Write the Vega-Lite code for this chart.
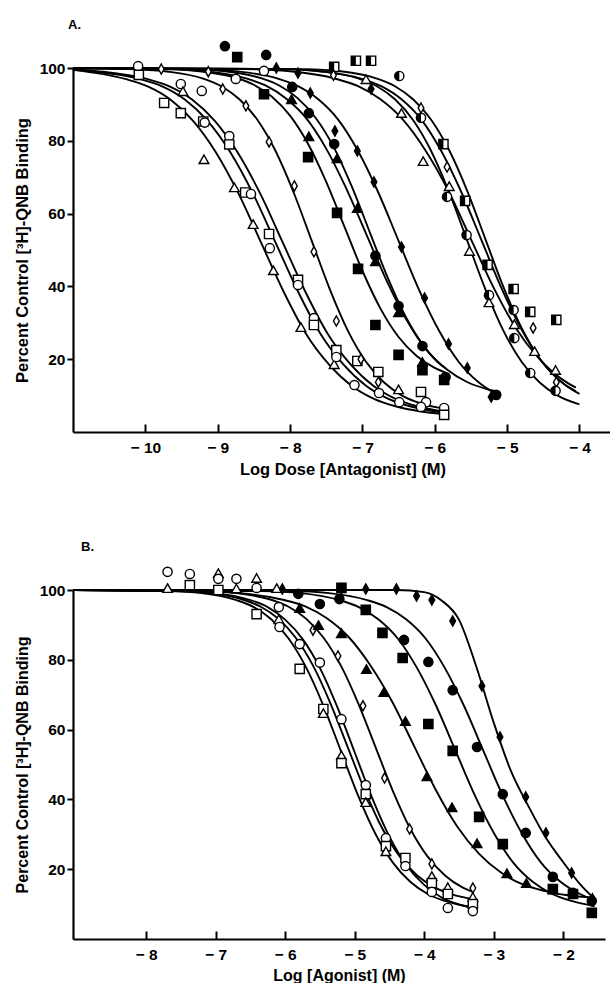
{
"$schema": "https://vega.github.io/schema/vega-lite/v6.json",
"background": "white",
"padding": {"left": 14, "top": 18, "right": 0, "bottom": 0},
"spacing": 63,
"config": {
 "view": {"stroke": null},
 "axis": {"grid": false, "domainColor": "black", "domainWidth": 2.2, "tickColor": "black", "tickWidth": 2,
  "labelFont": "Liberation Sans", "labelFontWeight": "bold", "labelFontSize": 15.5, "labelColor": "black",
  "titleFont": "Liberation Sans", "titleFontWeight": "bold", "titleFontSize": 16.5, "titleColor": "black",
  "labelOverlap": false, "labelFlush": false},
 "title": {"font": "Liberation Sans", "fontWeight": "bold", "fontSize": 13, "color": "black", "anchor": "start", "frame": "group"}
},
"datasets": {
"curvesA": [
{"s":"A1","x":-11,"y":99.5},{"s":"A1","x":-10.28,"y":97.0},{"s":"A1","x":-9.96,"y":94.9},{"s":"A1","x":-9.65,"y":91.3},{"s":"A1","x":-9.34,"y":85.5},{"s":"A1","x":-9.03,"y":77.0},{"s":"A1","x":-8.71,"y":65.4},{"s":"A1","x":-8.4,"y":52},{"s":"A1","x":-8.09,"y":38.6},{"s":"A1","x":-7.78,"y":27.0},{"s":"A1","x":-7.46,"y":18.5},{"s":"A1","x":-7.15,"y":12.7},{"s":"A1","x":-6.84,"y":9.1},{"s":"A1","x":-6.53,"y":7.0},{"s":"A1","x":-6.21,"y":5.7},{"s":"A1","x":-5.85,"y":4.9},
{"s":"A2","x":-11,"y":99.5},{"s":"A2","x":-10.7,"y":99.0},{"s":"A2","x":-10.08,"y":97.0},{"s":"A2","x":-9.76,"y":94.9},{"s":"A2","x":-9.45,"y":91.3},{"s":"A2","x":-9.14,"y":85.5},{"s":"A2","x":-8.83,"y":77.0},{"s":"A2","x":-8.51,"y":65.4},{"s":"A2","x":-8.2,"y":52},{"s":"A2","x":-7.89,"y":38.6},{"s":"A2","x":-7.58,"y":27.0},{"s":"A2","x":-7.26,"y":18.5},{"s":"A2","x":-6.95,"y":12.7},{"s":"A2","x":-6.64,"y":9.1},{"s":"A2","x":-6.33,"y":7.0},{"s":"A2","x":-6.01,"y":5.7},{"s":"A2","x":-5.85,"y":5.3},
{"s":"A3","x":-11,"y":99.6},{"s":"A3","x":-10.6,"y":99.0},{"s":"A3","x":-9.98,"y":97.0},{"s":"A3","x":-9.66,"y":94.9},{"s":"A3","x":-9.35,"y":91.3},{"s":"A3","x":-9.04,"y":85.5},{"s":"A3","x":-8.73,"y":77.0},{"s":"A3","x":-8.41,"y":65.4},{"s":"A3","x":-8.1,"y":52},{"s":"A3","x":-7.79,"y":38.6},{"s":"A3","x":-7.48,"y":27.0},{"s":"A3","x":-7.16,"y":18.5},{"s":"A3","x":-6.85,"y":12.7},{"s":"A3","x":-6.54,"y":9.1},{"s":"A3","x":-6.23,"y":7.0},{"s":"A3","x":-5.91,"y":5.7},{"s":"A3","x":-5.85,"y":5.5},
{"s":"A4","x":-11,"y":100},{"s":"A4","x":-10.2,"y":99.7},{"s":"A4","x":-9.7,"y":99.05},{"s":"A4","x":-9.2,"y":97.1},{"s":"A4","x":-8.95,"y":95.0},{"s":"A4","x":-8.7,"y":91.4},{"s":"A4","x":-8.45,"y":85.7},{"s":"A4","x":-8.2,"y":77.2},{"s":"A4","x":-7.95,"y":65.8},{"s":"A4","x":-7.7,"y":52.5},{"s":"A4","x":-7.45,"y":39.2},{"s":"A4","x":-7.2,"y":27.8},{"s":"A4","x":-6.95,"y":19.3},{"s":"A4","x":-6.7,"y":13.6},{"s":"A4","x":-6.45,"y":10.0},{"s":"A4","x":-6.2,"y":7.9},{"s":"A4","x":-5.95,"y":6.7},{"s":"A4","x":-5.85,"y":6.4},
{"s":"A5","x":-11,"y":100},{"s":"A5","x":-9.75,"y":99.7},{"s":"A5","x":-9.25,"y":99.1},{"s":"A5","x":-8.75,"y":97.3},{"s":"A5","x":-8.5,"y":95.4},{"s":"A5","x":-8.25,"y":92.1},{"s":"A5","x":-8.0,"y":86.9},{"s":"A5","x":-7.75,"y":79.1},{"s":"A5","x":-7.5,"y":68.7},{"s":"A5","x":-7.25,"y":56.5},{"s":"A5","x":-7.0,"y":44.3},{"s":"A5","x":-6.75,"y":33.9},{"s":"A5","x":-6.5,"y":26.1},{"s":"A5","x":-6.25,"y":20.9},{"s":"A5","x":-6.0,"y":17.6},{"s":"A5","x":-5.85,"y":16.3},
{"s":"A6","x":-11,"y":100},{"s":"A6","x":-9.4,"y":99.7},{"s":"A6","x":-8.9,"y":99.1},{"s":"A6","x":-8.4,"y":97.2},{"s":"A6","x":-8.15,"y":95.2},{"s":"A6","x":-7.9,"y":91.8},{"s":"A6","x":-7.65,"y":86.4},{"s":"A6","x":-7.4,"y":78.4},{"s":"A6","x":-7.15,"y":67.6},{"s":"A6","x":-6.9,"y":55},{"s":"A6","x":-6.65,"y":42.4},{"s":"A6","x":-6.4,"y":31.6},{"s":"A6","x":-6.15,"y":23.6},{"s":"A6","x":-5.9,"y":18.2},{"s":"A6","x":-5.85,"y":17.5},
{"s":"A7","x":-11,"y":100},{"s":"A7","x":-9.73,"y":99.7},{"s":"A7","x":-9.17,"y":99.1},{"s":"A7","x":-8.62,"y":97.2},{"s":"A7","x":-8.34,"y":95.2},{"s":"A7","x":-8.06,"y":91.7},{"s":"A7","x":-7.78,"y":86.3},{"s":"A7","x":-7.51,"y":78.2},{"s":"A7","x":-7.23,"y":67.2},{"s":"A7","x":-6.95,"y":54.5},{"s":"A7","x":-6.67,"y":41.8},{"s":"A7","x":-6.39,"y":30.8},{"s":"A7","x":-6.12,"y":22.7},{"s":"A7","x":-5.84,"y":17.3},{"s":"A7","x":-5.56,"y":13.8},{"s":"A7","x":-5.28,"y":11.8},{"s":"A7","x":-5.15,"y":11.2},
{"s":"A8","x":-11,"y":100},{"s":"A8","x":-9.28,"y":99.7},{"s":"A8","x":-8.72,"y":99.05},{"s":"A8","x":-8.17,"y":97.1},{"s":"A8","x":-7.89,"y":95.0},{"s":"A8","x":-7.61,"y":91.4},{"s":"A8","x":-7.33,"y":85.7},{"s":"A8","x":-7.06,"y":77.2},{"s":"A8","x":-6.78,"y":65.8},{"s":"A8","x":-6.5,"y":52.5},{"s":"A8","x":-6.22,"y":39.2},{"s":"A8","x":-5.94,"y":27.8},{"s":"A8","x":-5.67,"y":19.3},{"s":"A8","x":-5.39,"y":13.6},{"s":"A8","x":-5.2,"y":11.0},
{"s":"A9","x":-11,"y":100},{"s":"A9","x":-8.63,"y":99.7},{"s":"A9","x":-8.0,"y":99.1},{"s":"A9","x":-7.38,"y":97.1},{"s":"A9","x":-7.06,"y":95.0},{"s":"A9","x":-6.75,"y":91.4},{"s":"A9","x":-6.44,"y":85.8},{"s":"A9","x":-6.13,"y":77.4},{"s":"A9","x":-5.81,"y":66.2},{"s":"A9","x":-5.5,"y":53},{"s":"A9","x":-5.19,"y":39.8},{"s":"A9","x":-4.88,"y":28.6},{"s":"A9","x":-4.56,"y":20.2},{"s":"A9","x":-4.25,"y":14.6},{"s":"A9","x":-4.05,"y":12.2},
{"s":"A10","x":-11,"y":100},{"s":"A10","x":-8.05,"y":99.7},{"s":"A10","x":-7.55,"y":99.05},{"s":"A10","x":-7.05,"y":97.1},{"s":"A10","x":-6.8,"y":95.0},{"s":"A10","x":-6.55,"y":91.4},{"s":"A10","x":-6.3,"y":85.7},{"s":"A10","x":-6.05,"y":77.2},{"s":"A10","x":-5.8,"y":65.8},{"s":"A10","x":-5.55,"y":52.5},{"s":"A10","x":-5.3,"y":39.2},{"s":"A10","x":-5.05,"y":27.8},{"s":"A10","x":-4.8,"y":19.3},{"s":"A10","x":-4.55,"y":13.6},{"s":"A10","x":-4.3,"y":10.0},{"s":"A10","x":-4.0,"y":7.6},
{"s":"A11","x":-11,"y":100},{"s":"A11","x":-8.13,"y":99.7},{"s":"A11","x":-7.57,"y":99.05},{"s":"A11","x":-7.02,"y":97.1},{"s":"A11","x":-6.74,"y":95.0},{"s":"A11","x":-6.46,"y":91.4},{"s":"A11","x":-6.18,"y":85.7},{"s":"A11","x":-5.91,"y":77.2},{"s":"A11","x":-5.63,"y":65.8},{"s":"A11","x":-5.35,"y":52.5},{"s":"A11","x":-5.07,"y":39.2},{"s":"A11","x":-4.79,"y":27.8},{"s":"A11","x":-4.52,"y":19.3},{"s":"A11","x":-4.24,"y":13.6},{"s":"A11","x":-4.05,"y":11.2},
{"s":"A12","x":-11,"y":100},{"s":"A12","x":-7.8,"y":99.7},{"s":"A12","x":-7.3,"y":99.1},{"s":"A12","x":-6.8,"y":97.1},{"s":"A12","x":-6.55,"y":95.0},{"s":"A12","x":-6.3,"y":91.4},{"s":"A12","x":-6.05,"y":85.8},{"s":"A12","x":-5.8,"y":77.4},{"s":"A12","x":-5.55,"y":66.2},{"s":"A12","x":-5.3,"y":53},{"s":"A12","x":-5.05,"y":39.8},{"s":"A12","x":-4.8,"y":28.6},{"s":"A12","x":-4.55,"y":20.2},{"s":"A12","x":-4.3,"y":14.6},{"s":"A12","x":-4.05,"y":11.0},{"s":"A12","x":-4.0,"y":10.5}
],
"pointsA": [
{"x":-10.10,"y":100.5,"m":"circle","f":"open"},{"x":-10.09,"y":98.1,"m":"square","f":"open"},{"x":-9.78,"y":99.7,"m":"diamond","f":"open"},{"x":-9.51,"y":95.6,"m":"circle","f":"open"},{"x":-9.48,"y":93.4,"m":"triangle","f":"open"},{"x":-9.22,"y":93.7,"m":"circle","f":"open"},{"x":-9.74,"y":90.4,"m":"square","f":"open"},{"x":-9.51,"y":87.6,"m":"square","f":"open"},{"x":-9.2,"y":85.3,"m":"square","f":"open"},{"x":-9.18,"y":85.0,"m":"circle","f":"open"},{"x":-8.84,"y":81.3,"m":"circle","f":"open"},{"x":-8.84,"y":79.0,"m":"square","f":"open"},{"x":-9.19,"y":74.7,"m":"triangle","f":"open"},{"x":-8.77,"y":67.0,"m":"triangle","f":"open"},{"x":-8.62,"y":65.8,"m":"square","f":"open"},{"x":-8.54,"y":65.4,"m":"circle","f":"open"},{"x":-8.51,"y":56.9,"m":"triangle","f":"open"},{"x":-8.29,"y":54.4,"m":"square","f":"open"},{"x":-8.28,"y":50.5,"m":"circle","f":"open"},{"x":-8.23,"y":44.2,"m":"triangle","f":"open"},{"x":-7.89,"y":41.8,"m":"square","f":"open"},{"x":-7.89,"y":40.4,"m":"circle","f":"open"},{"x":-7.85,"y":28.6,"m":"triangle","f":"open"},{"x":-7.67,"y":31.3,"m":"circle","f":"open"},{"x":-7.67,"y":29.4,"m":"square","f":"open"},{"x":-7.36,"y":22.5,"m":"square","f":"open"},{"x":-7.39,"y":18.4,"m":"triangle","f":"open"},{"x":-7.36,"y":20.6,"m":"circle","f":"open"},{"x":-7.07,"y":19.5,"m":"square","f":"open"},{"x":-7.11,"y":12.9,"m":"circle","f":"open"},{"x":-6.78,"y":16.5,"m":"square","f":"open"},{"x":-6.77,"y":10.7,"m":"circle","f":"open"},{"x":-6.5,"y":11.5,"m":"triangle","f":"open"},{"x":-6.49,"y":8.2,"m":"circle","f":"open"},{"x":-6.19,"y":11.0,"m":"square","f":"open"},{"x":-6.12,"y":8.2,"m":"circle","f":"open"},{"x":-6.19,"y":6.9,"m":"circle","f":"open"},{"x":-5.87,"y":6.6,"m":"circle","f":"open"},{"x":-5.87,"y":4.7,"m":"square","f":"open"},
{"x":-9.13,"y":99.0,"m":"diamond","f":"open"},{"x":-8.93,"y":94.2,"m":"diamond","f":"open"},{"x":-8.61,"y":89.6,"m":"diamond","f":"open"},{"x":-8.29,"y":79.7,"m":"diamond","f":"open"},{"x":-7.94,"y":67.6,"m":"diamond","f":"open"},{"x":-7.67,"y":49.5,"m":"diamond","f":"open"},{"x":-7.36,"y":30.5,"m":"diamond","f":"open"},{"x":-7.02,"y":20.0,"m":"diamond","f":"open"},{"x":-6.78,"y":13.7,"m":"diamond","f":"open"},
{"x":-8.75,"y":97.0,"m":"circle","f":"open"},{"x":-8.36,"y":99.2,"m":"circle","f":"open"},
{"x":-8.9,"y":106,"m":"circle","f":"filled"},{"x":-8.73,"y":103,"m":"square","f":"filled"},{"x":-8.33,"y":103.6,"m":"circle","f":"filled"},{"x":-8.36,"y":92.8,"m":"square","f":"filled"},{"x":-8.19,"y":100,"m":"diamond","f":"filled"},{"x":-7.89,"y":98.6,"m":"diamond","f":"filled"},{"x":-7.97,"y":94.8,"m":"circle","f":"filled"},{"x":-7.98,"y":91.2,"m":"triangle","f":"filled"},{"x":-7.72,"y":93.1,"m":"diamond","f":"filled"},{"x":-7.74,"y":87.6,"m":"circle","f":"filled"},{"x":-7.74,"y":81.0,"m":"triangle","f":"filled"},{"x":-7.75,"y":75.5,"m":"square","f":"filled"},{"x":-7.38,"y":82.7,"m":"diamond","f":"filled"},{"x":-7.39,"y":79.1,"m":"circle","f":"filled"},{"x":-7.35,"y":75.0,"m":"triangle","f":"filled"},{"x":-7.07,"y":77.2,"m":"diamond","f":"filled"},{"x":-6.84,"y":68.7,"m":"diamond","f":"filled"},{"x":-7.35,"y":60.2,"m":"square","f":"filled"},{"x":-7.07,"y":61.3,"m":"triangle","f":"filled"},{"x":-6.46,"y":50.8,"m":"diamond","f":"filled"},{"x":-6.82,"y":48.4,"m":"circle","f":"filled"},{"x":-6.82,"y":46.7,"m":"triangle","f":"filled"},{"x":-7.06,"y":44.8,"m":"square","f":"filled"},{"x":-6.14,"y":36.8,"m":"diamond","f":"filled"},{"x":-6.5,"y":34.6,"m":"circle","f":"filled"},{"x":-6.5,"y":32.7,"m":"triangle","f":"filled"},{"x":-6.82,"y":29.4,"m":"square","f":"filled"},{"x":-5.81,"y":24.2,"m":"diamond","f":"filled"},{"x":-6.17,"y":23.6,"m":"circle","f":"filled"},{"x":-6.5,"y":21.2,"m":"square","f":"filled"},{"x":-5.55,"y":17.6,"m":"diamond","f":"filled"},{"x":-6.17,"y":19.0,"m":"triangle","f":"filled"},{"x":-6.17,"y":17.0,"m":"square","f":"filled"},{"x":-5.85,"y":15.1,"m":"circle","f":"filled"},{"x":-5.87,"y":14.3,"m":"square","f":"filled"},{"x":-5.22,"y":9.6,"m":"diamond","f":"filled"},{"x":-5.15,"y":10.2,"m":"circle","f":"filled"},
{"x":-7.39,"y":100.3,"m":"square","f":"half"},{"x":-7.09,"y":102,"m":"square","f":"half"},{"x":-6.88,"y":102,"m":"square","f":"half"},{"x":-7.4,"y":98.0,"m":"diamond","f":"open"},{"x":-6.95,"y":96.7,"m":"triangle","f":"open"},{"x":-6.88,"y":94.2,"m":"diamond","f":"filled"},{"x":-6.49,"y":97.8,"m":"circle","f":"half"},{"x":-6.46,"y":87.4,"m":"triangle","f":"open"},{"x":-6.19,"y":89.0,"m":"diamond","f":"open"},{"x":-6.19,"y":86.3,"m":"circle","f":"half"},{"x":-6.16,"y":74.2,"m":"triangle","f":"open"},{"x":-5.88,"y":79.1,"m":"square","f":"half"},{"x":-5.83,"y":72.8,"m":"diamond","f":"open"},{"x":-5.8,"y":67.3,"m":"triangle","f":"open"},{"x":-5.83,"y":64.6,"m":"circle","f":"half"},{"x":-5.58,"y":63.5,"m":"square","f":"half"},{"x":-5.56,"y":54.1,"m":"circle","f":"half"},{"x":-5.52,"y":49.5,"m":"triangle","f":"open"},{"x":-5.27,"y":45.9,"m":"square","f":"half"},{"x":-5.25,"y":37.6,"m":"circle","f":"half"},{"x":-5.25,"y":35.4,"m":"triangle","f":"open"},{"x":-4.91,"y":39.3,"m":"square","f":"half"},{"x":-4.91,"y":33.5,"m":"circle","f":"half"},{"x":-4.68,"y":33.0,"m":"square","f":"half"},{"x":-4.9,"y":29.4,"m":"triangle","f":"open"},{"x":-4.64,"y":28.6,"m":"diamond","f":"open"},{"x":-4.32,"y":30.8,"m":"square","f":"half"},{"x":-4.9,"y":25.8,"m":"circle","f":"half"},{"x":-4.62,"y":22.0,"m":"triangle","f":"open"},{"x":-4.68,"y":16.2,"m":"circle","f":"half"},{"x":-4.33,"y":16.8,"m":"triangle","f":"open"},{"x":-4.32,"y":13.7,"m":"diamond","f":"open"},{"x":-4.33,"y":11.3,"m":"circle","f":"half"}
],
"curvesB": [
{"s":"B1","x":-9.05,"y":100},{"s":"B1","x":-7.7,"y":99.7},{"s":"B1","x":-7.2,"y":99.1},{"s":"B1","x":-6.7,"y":97.1},{"s":"B1","x":-6.45,"y":95.1},{"s":"B1","x":-6.2,"y":91.6},{"s":"B1","x":-5.95,"y":86.1},{"s":"B1","x":-5.7,"y":77.9},{"s":"B1","x":-5.45,"y":66.9},{"s":"B1","x":-5.2,"y":54},{"s":"B1","x":-4.95,"y":41.1},{"s":"B1","x":-4.7,"y":30.1},{"s":"B1","x":-4.45,"y":21.9},{"s":"B1","x":-4.2,"y":16.4},{"s":"B1","x":-3.95,"y":12.9},{"s":"B1","x":-3.7,"y":10.9},{"s":"B1","x":-3.45,"y":9.6},{"s":"B1","x":-3.3,"y":9.2},
{"s":"B2","x":-9.05,"y":100},{"s":"B2","x":-7.6,"y":99.7},{"s":"B2","x":-7.1,"y":99.1},{"s":"B2","x":-6.6,"y":97.2},{"s":"B2","x":-6.35,"y":95.2},{"s":"B2","x":-6.1,"y":91.8},{"s":"B2","x":-5.85,"y":86.4},{"s":"B2","x":-5.6,"y":78.4},{"s":"B2","x":-5.35,"y":67.6},{"s":"B2","x":-5.1,"y":55},{"s":"B2","x":-4.85,"y":42.4},{"s":"B2","x":-4.6,"y":31.6},{"s":"B2","x":-4.35,"y":23.6},{"s":"B2","x":-4.1,"y":18.2},{"s":"B2","x":-3.85,"y":14.8},{"s":"B2","x":-3.6,"y":12.8},{"s":"B2","x":-3.3,"y":11.4},
{"s":"B3","x":-9.05,"y":100},{"s":"B3","x":-7.5,"y":99.7},{"s":"B3","x":-7.0,"y":99.1},{"s":"B3","x":-6.5,"y":97.1},{"s":"B3","x":-6.25,"y":95.1},{"s":"B3","x":-6.0,"y":91.5},{"s":"B3","x":-5.75,"y":86.0},{"s":"B3","x":-5.5,"y":77.7},{"s":"B3","x":-5.25,"y":66.5},{"s":"B3","x":-5.0,"y":53.5},{"s":"B3","x":-4.75,"y":40.5},{"s":"B3","x":-4.5,"y":29.3},{"s":"B3","x":-4.25,"y":21.0},{"s":"B3","x":-4.0,"y":15.5},{"s":"B3","x":-3.75,"y":11.9},{"s":"B3","x":-3.5,"y":9.9},{"s":"B3","x":-3.3,"y":8.8},
{"s":"B4","x":-9.05,"y":100},{"s":"B4","x":-7.2,"y":99.7},{"s":"B4","x":-6.7,"y":99.1},{"s":"B4","x":-6.2,"y":97.2},{"s":"B4","x":-5.95,"y":95.2},{"s":"B4","x":-5.7,"y":91.8},{"s":"B4","x":-5.45,"y":86.4},{"s":"B4","x":-5.2,"y":78.4},{"s":"B4","x":-4.95,"y":67.6},{"s":"B4","x":-4.7,"y":55},{"s":"B4","x":-4.45,"y":42.4},{"s":"B4","x":-4.2,"y":31.6},{"s":"B4","x":-3.95,"y":23.6},{"s":"B4","x":-3.7,"y":18.2},{"s":"B4","x":-3.45,"y":14.8},{"s":"B4","x":-3.3,"y":13.5},
{"s":"B5","x":-9.05,"y":100},{"s":"B5","x":-7.28,"y":99.7},{"s":"B5","x":-6.65,"y":99.1},{"s":"B5","x":-6.03,"y":97.2},{"s":"B5","x":-5.71,"y":95.3},{"s":"B5","x":-5.4,"y":91.9},{"s":"B5","x":-5.09,"y":86.6},{"s":"B5","x":-4.78,"y":78.6},{"s":"B5","x":-4.46,"y":68.0},{"s":"B5","x":-4.15,"y":55.5},{"s":"B5","x":-3.84,"y":43.0},{"s":"B5","x":-3.53,"y":32.4},{"s":"B5","x":-3.21,"y":24.4},{"s":"B5","x":-2.9,"y":19.1},{"s":"B5","x":-2.59,"y":15.7},{"s":"B5","x":-2.28,"y":13.8},{"s":"B5","x":-1.96,"y":12.6},{"s":"B5","x":-1.55,"y":11.8},
{"s":"B6","x":-9.05,"y":100},{"s":"B6","x":-6.33,"y":99.7},{"s":"B6","x":-5.77,"y":99.1},{"s":"B6","x":-5.22,"y":97.1},{"s":"B6","x":-4.94,"y":95.1},{"s":"B6","x":-4.66,"y":91.6},{"s":"B6","x":-4.38,"y":86.1},{"s":"B6","x":-4.11,"y":77.9},{"s":"B6","x":-3.83,"y":66.9},{"s":"B6","x":-3.55,"y":54},{"s":"B6","x":-3.27,"y":41.1},{"s":"B6","x":-2.99,"y":30.1},{"s":"B6","x":-2.72,"y":21.9},{"s":"B6","x":-2.44,"y":16.4},{"s":"B6","x":-2.16,"y":12.9},{"s":"B6","x":-1.88,"y":10.9},{"s":"B6","x":-1.55,"y":9.4},
{"s":"B7","x":-9.05,"y":100},{"s":"B7","x":-5.93,"y":99.7},{"s":"B7","x":-5.37,"y":99.1},{"s":"B7","x":-4.82,"y":97.1},{"s":"B7","x":-4.54,"y":95.1},{"s":"B7","x":-4.26,"y":91.6},{"s":"B7","x":-3.98,"y":86.1},{"s":"B7","x":-3.71,"y":77.9},{"s":"B7","x":-3.43,"y":66.9},{"s":"B7","x":-3.15,"y":54},{"s":"B7","x":-2.87,"y":41.1},{"s":"B7","x":-2.59,"y":30.1},{"s":"B7","x":-2.32,"y":21.9},{"s":"B7","x":-2.04,"y":16.4},{"s":"B7","x":-1.76,"y":12.9},{"s":"B7","x":-1.55,"y":11.1},
{"s":"B8","x":-9.05,"y":100},{"s":"B8","x":-4.4,"y":100},{"s":"B8","x":-4.0,"y":99.4},{"s":"B8","x":-3.75,"y":97},{"s":"B8","x":-3.5,"y":91.5},{"s":"B8","x":-3.25,"y":78},{"s":"B8","x":-3.0,"y":62},{"s":"B8","x":-2.75,"y":48},{"s":"B8","x":-2.5,"y":38},{"s":"B8","x":-2.25,"y":29},{"s":"B8","x":-2.0,"y":22},{"s":"B8","x":-1.75,"y":15.5},{"s":"B8","x":-1.55,"y":11.5}
],
"pointsB": [
{"x":-7.69,"y":105.2,"m":"circle","f":"open"},{"x":-7.69,"y":100.3,"m":"triangle","f":"open"},{"x":-7.37,"y":104.6,"m":"circle","f":"open"},{"x":-7.37,"y":101.4,"m":"square","f":"open"},{"x":-6.96,"y":104.6,"m":"triangle","f":"open"},{"x":-6.96,"y":103.2,"m":"circle","f":"open"},{"x":-6.96,"y":100.0,"m":"square","f":"open"},{"x":-6.7,"y":103.2,"m":"circle","f":"open"},{"x":-6.7,"y":100.2,"m":"triangle","f":"open"},{"x":-6.41,"y":103.2,"m":"triangle","f":"open"},{"x":-6.41,"y":100.6,"m":"circle","f":"open"},{"x":-6.12,"y":100.3,"m":"triangle","f":"open"},{"x":-6.41,"y":93.1,"m":"square","f":"open"},{"x":-6.09,"y":95.1,"m":"circle","f":"open"},{"x":-6.09,"y":91.4,"m":"triangle","f":"open"},{"x":-6.08,"y":89.4,"m":"circle","f":"open"},{"x":-5.6,"y":88.5,"m":"diamond","f":"open"},{"x":-5.79,"y":84.5,"m":"circle","f":"open"},{"x":-5.79,"y":77.4,"m":"square","f":"open"},{"x":-5.5,"y":79.2,"m":"circle","f":"open"},{"x":-5.24,"y":81.1,"m":"diamond","f":"open"},{"x":-5.45,"y":65.9,"m":"square","f":"open"},{"x":-5.45,"y":64.5,"m":"triangle","f":"open"},{"x":-5.19,"y":63.0,"m":"circle","f":"open"},{"x":-5.19,"y":52.4,"m":"triangle","f":"open"},{"x":-5.19,"y":50.4,"m":"square","f":"open"},{"x":-4.88,"y":66.8,"m":"diamond","f":"open"},{"x":-4.57,"y":46.1,"m":"diamond","f":"open"},{"x":-4.84,"y":44.1,"m":"circle","f":"open"},{"x":-4.84,"y":41.5,"m":"square","f":"open"},{"x":-4.84,"y":39.0,"m":"triangle","f":"open"},{"x":-4.55,"y":28.9,"m":"circle","f":"open"},{"x":-4.55,"y":26.6,"m":"square","f":"open"},{"x":-4.55,"y":24.9,"m":"triangle","f":"open"},{"x":-4.21,"y":31.5,"m":"diamond","f":"open"},{"x":-4.27,"y":23.2,"m":"square","f":"open"},{"x":-4.27,"y":20.9,"m":"circle","f":"open"},{"x":-3.89,"y":21.5,"m":"diamond","f":"open"},{"x":-3.89,"y":17.8,"m":"triangle","f":"open"},{"x":-3.89,"y":16.0,"m":"square","f":"open"},{"x":-3.89,"y":13.5,"m":"circle","f":"open"},{"x":-3.66,"y":14.6,"m":"triangle","f":"open"},{"x":-3.66,"y":12.9,"m":"square","f":"open"},{"x":-3.66,"y":8.9,"m":"circle","f":"open"},{"x":-3.3,"y":14.6,"m":"diamond","f":"open"},{"x":-3.3,"y":11.8,"m":"triangle","f":"open"},{"x":-3.3,"y":10.0,"m":"square","f":"open"},{"x":-3.3,"y":8.0,"m":"circle","f":"open"},
{"x":-6.04,"y":100.3,"m":"diamond","f":"filled"},{"x":-5.19,"y":100.3,"m":"diamond","f":"filled"},{"x":-4.84,"y":100.3,"m":"diamond","f":"filled"},{"x":-4.4,"y":100.3,"m":"diamond","f":"filled"},{"x":-4.11,"y":98.3,"m":"diamond","f":"filled"},{"x":-3.89,"y":97.1,"m":"diamond","f":"filled"},{"x":-3.59,"y":91.1,"m":"diamond","f":"filled"},{"x":-3.17,"y":72.5,"m":"diamond","f":"filled"},{"x":-2.91,"y":57.9,"m":"diamond","f":"filled"},{"x":-2.54,"y":40.7,"m":"diamond","f":"filled"},{"x":-2.25,"y":30.4,"m":"diamond","f":"filled"},{"x":-1.88,"y":18.9,"m":"diamond","f":"filled"},{"x":-1.58,"y":11.5,"m":"diamond","f":"filled"},
{"x":-5.81,"y":98.9,"m":"circle","f":"filled"},{"x":-5.5,"y":96.0,"m":"circle","f":"filled"},{"x":-5.22,"y":97.4,"m":"circle","f":"filled"},{"x":-4.29,"y":85.7,"m":"circle","f":"filled"},{"x":-3.94,"y":79.4,"m":"circle","f":"filled"},{"x":-3.59,"y":71.3,"m":"circle","f":"filled"},{"x":-3.24,"y":55.0,"m":"circle","f":"filled"},{"x":-2.87,"y":41.5,"m":"circle","f":"filled"},{"x":-2.54,"y":30.4,"m":"circle","f":"filled"},{"x":-2.15,"y":17.8,"m":"circle","f":"filled"},{"x":-1.86,"y":13.2,"m":"circle","f":"filled"},{"x":-1.59,"y":10.9,"m":"circle","f":"filled"},
{"x":-5.19,"y":100.6,"m":"square","f":"filled"},{"x":-4.84,"y":94.3,"m":"square","f":"filled"},{"x":-4.6,"y":87.7,"m":"square","f":"filled"},{"x":-4.31,"y":80.5,"m":"square","f":"filled"},{"x":-3.94,"y":61.6,"m":"square","f":"filled"},{"x":-3.59,"y":53.9,"m":"square","f":"filled"},{"x":-3.21,"y":35.0,"m":"square","f":"filled"},{"x":-2.87,"y":27.2,"m":"square","f":"filled"},{"x":-2.15,"y":14.3,"m":"square","f":"filled"},{"x":-1.86,"y":12.9,"m":"square","f":"filled"},{"x":-1.59,"y":7.5,"m":"square","f":"filled"},
{"x":-5.79,"y":94.6,"m":"triangle","f":"filled"},{"x":-5.52,"y":89.7,"m":"triangle","f":"filled"},{"x":-5.19,"y":87.4,"m":"triangle","f":"filled"},{"x":-4.83,"y":77.1,"m":"triangle","f":"filled"},{"x":-4.58,"y":70.5,"m":"triangle","f":"filled"},{"x":-4.27,"y":62.2,"m":"triangle","f":"filled"},{"x":-3.96,"y":46.4,"m":"triangle","f":"filled"},{"x":-3.6,"y":37.5,"m":"triangle","f":"filled"},{"x":-3.24,"y":27.2,"m":"triangle","f":"filled"},{"x":-2.81,"y":18.6,"m":"triangle","f":"filled"},{"x":-2.53,"y":15.8,"m":"triangle","f":"filled"},{"x":-2.15,"y":14.0,"m":"triangle","f":"filled"}
]
},
"vconcat": [
{
 "width": 539, "height": 364,
 "title": {"text": "A.", "dx": -5, "offset": 7},
 "encoding": {
  "x": {"field": "x", "type": "quantitative", "scale": {"domain": [-11, -3.55], "nice": false, "zero": false},
        "axis": {"title": "Log Dose [Antagonist] (M)", "values": [-10,-9,-8,-7,-6,-5,-4], "labelExpr": "'−\u00a0' + abs(datum.value) + '\u00a0\u00a0\u00a0'", "tickSize": -8, "labelPadding": 16.5, "titlePadding": 5.5}},
  "y": {"field": "y", "type": "quantitative", "scale": {"domain": [0, 100], "nice": false, "zero": false},
        "axis": {"title": "Percent Control [³H]-QNB Binding", "values": [20,40,60,80,100], "tickSize": 6, "labelPadding": 2, "titlePadding": 9}}
 },
 "layer": [
  {"data": {"name": "curvesA"}, "mark": {"type": "line", "interpolate": "monotone", "color": "black", "strokeWidth": 1.9},
   "encoding": {"detail": {"field": "s"}}},
  {"data": {"name": "pointsA"}, "mark": {"type": "point", "filled": true, "stroke": "black", "strokeWidth": 1.4, "size": 85, "opacity": 1},
   "encoding": {
    "shape": {"field": "m", "type": "nominal", "legend": null, "scale": {"domain": ["circle","square","triangle","diamond"], "range": ["circle","square","M0,-1.1L1.05,0.75L-1.05,0.75Z","M0,-1.1L0.62,0L0,1.1L-0.62,0Z"]}},
    "fill": {"field": "f", "type": "nominal", "legend": null, "scale": {"domain": ["open","filled","half"], "range": ["white","black","white"]}}}},
  {"data": {"name": "pointsA"}, "transform": [{"filter": "datum.f === 'half' && datum.m === 'circle'"}],
   "mark": {"type": "point", "filled": true, "fill": "black", "strokeWidth": 0, "size": 85, "opacity": 1, "shape": "M0,-1A1,1,0,0,0,0,1Z"}},
  {"data": {"name": "pointsA"}, "transform": [{"filter": "datum.f === 'half' && datum.m === 'square'"}],
   "mark": {"type": "point", "filled": true, "fill": "black", "strokeWidth": 0, "size": 85, "opacity": 1, "shape": "M-1,-1H0V1H-1Z"}}
 ]
},
{
 "width": 532, "height": 349,
 "title": {"text": "B.", "dx": 8, "offset": 10},
 "encoding": {
  "x": {"field": "x", "type": "quantitative", "scale": {"domain": [-9.05, -1.4], "nice": false, "zero": false},
        "axis": {"title": "Log [Agonist] (M)", "titleFontSize": 16, "values": [-8,-7,-6,-5,-4,-3,-2], "labelExpr": "'−\u00a0' + abs(datum.value) + '\u00a0\u00a0\u00a0'", "tickSize": -8, "labelPadding": 16.5, "titlePadding": 4.5}},
  "y": {"field": "y", "type": "quantitative", "scale": {"domain": [0, 100], "nice": false, "zero": false},
        "axis": {"title": "Percent Control [³H]-QNB Binding", "titleFontSize": 16, "values": [20,40,60,80,100], "tickSize": 6, "labelPadding": 2, "titlePadding": 9}}
 },
 "layer": [
  {"data": {"name": "curvesB"}, "mark": {"type": "line", "interpolate": "monotone", "color": "black", "strokeWidth": 1.9},
   "encoding": {"detail": {"field": "s"}}},
  {"data": {"name": "pointsB"}, "mark": {"type": "point", "filled": true, "stroke": "black", "strokeWidth": 1.4, "size": 85, "opacity": 1},
   "encoding": {
    "shape": {"field": "m", "type": "nominal", "legend": null, "scale": {"domain": ["circle","square","triangle","diamond"], "range": ["circle","square","M0,-1.1L1.05,0.75L-1.05,0.75Z","M0,-1.1L0.62,0L0,1.1L-0.62,0Z"]}},
    "fill": {"field": "f", "type": "nominal", "legend": null, "scale": {"domain": ["open","filled","half"], "range": ["white","black","white"]}}}}
 ]
}
]
}
